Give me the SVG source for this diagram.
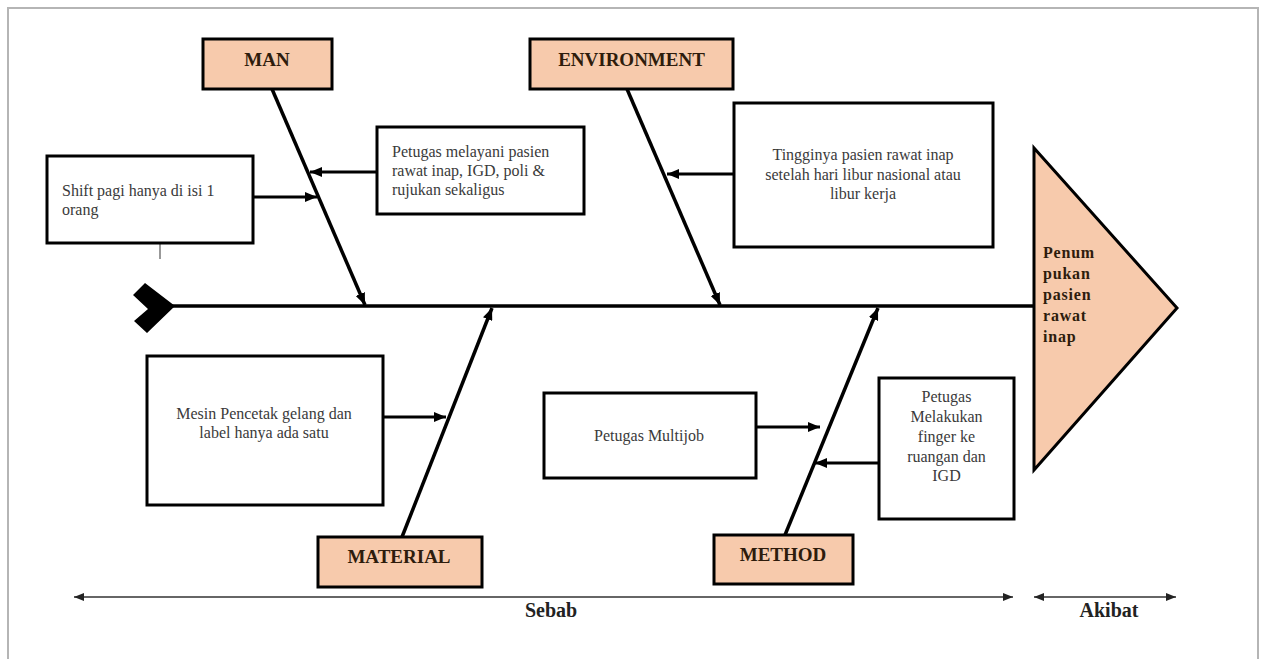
<svg xmlns="http://www.w3.org/2000/svg" width="1265" height="659" viewBox="0 0 1265 659">
<defs>
<style>
.box{fill:#fff;stroke:#000;stroke-width:3}
.cat{fill:#F7CAAC;stroke:#000;stroke-width:3}
.bone{stroke:#000;stroke-width:3.5;fill:none}
.arr{stroke:#000;stroke-width:3;fill:none}
.dim{stroke:#333;stroke-width:1.3;fill:none}
.t{font-family:"Liberation Serif","Times New Roman",serif;font-size:16px;fill:#3a3a3a}
.c{font-family:"Liberation Serif","Times New Roman",serif;font-size:19px;font-weight:bold;fill:#2e1c0c;text-anchor:middle}
.h{font-family:"Liberation Serif","Times New Roman",serif;font-size:20px;font-weight:bold;fill:#222;text-anchor:middle}
.mid{text-anchor:middle}
</style>
<marker id="ah" markerUnits="userSpaceOnUse" markerWidth="12" markerHeight="10" refX="12" refY="5" orient="auto">
<path d="M0,0 L12,5 L0,10 z" fill="#000"/>
</marker>
<marker id="dh" markerUnits="userSpaceOnUse" markerWidth="10" markerHeight="8" refX="10" refY="4" orient="auto-start-reverse">
<path d="M0,0 L10,4 L0,8 z" fill="#222"/>
</marker>
</defs>
<rect x="8" y="8" width="1250" height="700" fill="#fff" stroke="#b5b5b5" stroke-width="2"/>

<g id="connectors">
<line class="bone" x1="170" y1="306" x2="1034" y2="306"/>
<line class="bone" x1="272" y1="89" x2="365" y2="305" marker-end="url(#ah)"/>
<line class="bone" x1="627" y1="89" x2="720" y2="305" marker-end="url(#ah)"/>
<line class="bone" x1="402" y1="537" x2="492" y2="308" marker-end="url(#ah)"/>
<line class="bone" x1="785" y1="535" x2="878" y2="308" marker-end="url(#ah)"/>
<line class="arr" x1="253" y1="197" x2="317" y2="197" marker-end="url(#ah)"/>
<line class="arr" x1="377" y1="172" x2="310" y2="172" marker-end="url(#ah)"/>
<line class="arr" x1="734" y1="174" x2="667" y2="174" marker-end="url(#ah)"/>
<line class="arr" x1="383" y1="417" x2="446" y2="417" marker-end="url(#ah)"/>
<line class="arr" x1="756" y1="427" x2="820" y2="427" marker-end="url(#ah)"/>
<line class="arr" x1="879" y1="463" x2="815" y2="463" marker-end="url(#ah)"/>
<line x1="160" y1="236" x2="160" y2="259" stroke="#555" stroke-width="1.2"/>
<line class="dim" x1="74" y1="597" x2="1013" y2="597" marker-start="url(#dh)" marker-end="url(#dh)"/>
<line class="dim" x1="1034" y1="597" x2="1176" y2="597" marker-start="url(#dh)" marker-end="url(#dh)"/>
</g>

<g id="tail">
<polygon points="133,295 145,283 175,306 147,333 134,321 148,309" fill="#000"/>
</g>

<g id="man">
<rect class="cat" x="203" y="39" width="129" height="50"/>
<text class="c" x="267" y="66">MAN</text>
</g>
<g id="environment">
<rect class="cat" x="530" y="39" width="203" height="50"/>
<text class="c" x="631.5" y="66">ENVIRONMENT</text>
</g>
<g id="material">
<rect class="cat" x="318" y="537" width="164" height="50"/>
<text class="c" x="399" y="563">MATERIAL</text>
</g>
<g id="method">
<rect class="cat" x="714" y="535" width="139" height="49"/>
<text class="c" x="783" y="561">METHOD</text>
</g>

<g id="shift">
<rect class="box" x="47" y="156" width="206" height="87"/>
<text class="t" x="62" y="196">Shift pagi hanya di isi 1</text>
<text class="t" x="62" y="215">orang</text>
</g>
<g id="petugas-melayani">
<rect class="box" x="377" y="127" width="207" height="87"/>
<text class="t" x="392" y="157">Petugas melayani pasien</text>
<text class="t" x="392" y="176">rawat inap, IGD, poli &amp;</text>
<text class="t" x="392" y="195">rujukan sekaligus</text>
</g>
<g id="tingginya">
<rect class="box" x="734" y="103" width="259" height="144"/>
<text class="t mid" x="863" y="160">Tingginya pasien rawat inap</text>
<text class="t mid" x="863" y="180">setelah hari libur nasional atau</text>
<text class="t mid" x="863" y="199">libur kerja</text>
</g>
<g id="mesin">
<rect class="box" x="147" y="356" width="236" height="149"/>
<text class="t mid" x="264" y="419">Mesin Pencetak gelang dan</text>
<text class="t mid" x="264" y="438">label hanya ada satu</text>
</g>
<g id="multijob">
<rect class="box" x="544" y="393" width="212" height="85"/>
<text class="t mid" x="649" y="441">Petugas Multijob</text>
</g>
<g id="finger">
<rect class="box" x="879" y="378" width="135" height="141"/>
<text class="t mid" x="946.5" y="402">Petugas</text>
<text class="t mid" x="946.5" y="422">Melakukan</text>
<text class="t mid" x="946.5" y="442">finger ke</text>
<text class="t mid" x="946.5" y="462">ruangan dan</text>
<text class="t mid" x="946.5" y="481">IGD</text>
</g>

<g id="effect">
<polygon points="1034,148 1177,308 1034,470" fill="#F7CAAC" stroke="#000" stroke-width="3" stroke-linejoin="miter"/>
<g font-family="Liberation Serif, Times New Roman, serif" font-size="16" font-weight="bold" fill="#2e1c0c" letter-spacing="0.8">
<text x="1043" y="258">Penum</text>
<text x="1043" y="279">pukan</text>
<text x="1043" y="300">pasien</text>
<text x="1043" y="321">rawat</text>
<text x="1043" y="342">inap</text>
</g>
</g>

<g id="labels">
<text class="h" x="551" y="617">Sebab</text>
<text class="h" x="1109" y="617">Akibat</text>
</g>
</svg>
